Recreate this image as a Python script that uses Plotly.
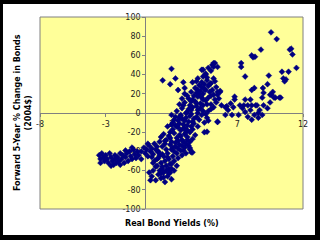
import plotly.graph_objects as go

# Real bond yields (%) and forward 5-year % change in bonds (2004$)
yields = [
    # left cluster
    -3.5, -3.4, -3.3, -3.2, -3.1, -3.0, -2.9, -2.8, -2.7, -2.6, -2.5, -2.4, -2.3, -2.2, -2.1, -2.0,
    -1.9, -1.8, -1.7, -1.6, -1.5, -1.4, -1.3, -1.2, -1.1, -1.0, -0.9, -0.8, -0.7, -0.6, -0.5, -1.5,
    -1.0, -2.6, -3.4, -0.3, -1.9, -2.3,
    # left prong of main cloud
    -0.3, -0.1, 0.0, 0.1, 0.2, 0.3, 0.4, 0.5, 0.6, 0.7, 0.8, 0.9, 1.0, 1.1, 0.5, 0.2,
    # lower cloud
    0.7, 0.9, 1.0, 1.2, 1.3, 1.4, 1.5, 1.6, 1.7, 1.8, 1.9, 2.0, 2.1, 2.2, 2.3, 2.4,
    2.5, 2.6, 2.7, 2.8, 2.9, 3.0, 3.1, 3.2, 3.3, 3.4, 3.5, 2.4, 2.0, 1.1,
    1.3, 1.6, 1.9, 2.2, 2.5, 2.8, 1.1, 3.1, 3.4,
    # bottom
    0.3, 0.5, 0.6, 0.8, 1.0, 1.2, 1.4, 1.5, 1.7, 1.9, 2.0, 0.4, 1.3, 1.8,
    # middle band
    1.2, 1.4, 1.6, 1.8, 2.0, 2.2, 2.4, 2.6, 2.8, 3.0, 3.2, 3.4, 3.6, 3.8, 1.5, 2.7,
    3.0, 3.5, 2.5, 2.1, 1.7, 2.0, 2.3, 2.6, 2.9, 3.2, 3.6, 4.0, 1.9,
    # upper dense cloud
    2.1, 2.5, 2.9, 3.3, 3.7, 4.1, 4.5, 2.3, 2.7, 3.1, 3.5, 3.9, 4.3, 4.7,
    2.4, 2.8, 3.2, 3.6, 4.0, 4.4, 4.8, 5.2, 2.6, 3.0, 3.4, 3.8, 4.2, 4.6, 5.0, 5.4, 5.8,
    2.8, 3.2, 3.6, 4.0, 4.4, 4.8, 5.2, 5.6, 3.0, 3.5, 4.2, 4.9,
    3.8, 4.1, 4.5, 4.8, 5.1, 5.4, 5.7, 4.3, 4.7, 5.0, 5.3, 3.9,
    4.4, 4.6, 4.3, 5.0, 4.8, 5.1, 5.3, 5.5, 4.0, 5.2, 5.2, 4.4, 4.6,
    3.3, 3.7, 4.2, 4.6, 5.0, 2.9, 3.5, 3.9, 4.4, 4.7, 5.3, 3.3, 4.1, 4.6, 5.0, 5.5,
    4.3, 4.9, 5.2, 4.7, 4.5, 3.7, 3.9, 4.0, 3.0, 2.6, 3.4, 4.8, 2.2, 2.0,
    # extra density in the cloud
    2.7, 3.1, 3.5, 3.9, 4.3, 2.4, 2.8, 3.2, 3.6, 4.0, 4.4, 1.5, 1.9, 2.3, 2.7, 3.1,
    0.9, 1.3, 1.7, 2.1, 2.5, 2.9, 0.8, 1.2, 1.6, 2.0, 1.4, 1.8, 2.2, 1.0, 0.6,
    # isolated points near cloud
    2.0, 1.33, 1.9, 2.3, 2.9, 3.6, 3.0, 2.5, 5.5, 6.1, 6.3, 5.5, 4.7, 3.4, 3.6, 5.7,
    # right scattered group
    9.57, 10.0, 11.1, 11.0, 11.2, 8.8, 8.1, 8.2, 8.35, 7.3, 7.3, 7.6, 9.4, 10.4, 10.9, 11.5,
    10.5, 10.7, 10.6, 9.3, 8.95, 8.1, 8.3, 9.7, 9.5, 9.8, 8.9, 10.2, 6.8, 7.6,
    6.2, 6.5, 6.7, 6.8, 7.2, 7.5, 7.8, 8.1, 8.4, 8.5,
    7.4, 7.6, 8.0, 8.3, 8.7, 8.9, 6.1, 6.6, 7.1, 7.8, 8.6, 8.6, 8.1,
    5.5, 4.5, 9.0, 9.5, 9.6, 9.9, 10.3, 9.3, 9.0, 8.0,
]

changes = [
    # left cluster
    -44, -48, -42, -46, -50, -44, -48, -52, -42, -46, -50, -54, -48, -52, -46, -50,
    -54, -48, -44, -52, -46, -42, -50, -40, -45, -48, -38, -43, -47, -40, -44, -39,
    -36, -55, -52, -48, -42, -44,
    # left prong of main cloud
    -40, -36, -42, -38, -45, -34, -40, -37, -43, -32, -38, -35, -41, -30, -46, -32,
    # lower cloud
    -50, -55, -47, -52, -58, -45, -50, -55, -42, -48, -53, -38, -45, -50, -35, -42,
    -47, -33, -39, -44, -30, -36, -42, -28, -34, -38, -41, -55, -58, -60,
    -35, -38, -33, -40, -37, -34, -44, -32, -30,
    # bottom
    -62, -66, -60, -70, -64, -68, -62, -72, -66, -62, -69, -70, -56, -58,
    # middle band
    -25, -22, -28, -24, -30, -21, -26, -23, -28, -22, -25, -20, -27, -23, -32, -18,
    -16, -14, -15, -17, -14, -12, -13, -11, -16, -13, -17, -14, -20,
    # upper dense cloud
    -10, -8, -12, -9, -11, -7, -10, -4, -2, -5, -1, -4, -2, -5,
    2, 5, 1, 6, 3, 8, 2, 6, 9, 11, 8, 12, 10, 13, 9, 11, 8,
    15, 18, 14, 17, 20, 16, 19, 15, 20, 22, 23, 22,
    26, 29, 25, 28, 24, 27, 23, 32, 34, 31, 33, 33,
    38, 41, 45, 44, 47, 50, 52, 48, 36, 52, 48, 45, 40,
    4, -6, 5, -1, 4, 8, 12, 7, 14, 9, 14, 15, 19, 24, 18, 19,
    27, 30, 36, 37, 30, 18, 21, 0, -8, -5, -3, -8, -7, -2,
    # extra density in the cloud
    -3, 0, 3, 10, 16, -14, -6, -18, -9, 24, 2, -29, -26, -31, -24, -20,
    -48, -43, -46, -36, -29, -39, -56, -63, -60, -53, -67, -63, -60, -40, -52,
    # isolated points near cloud
    46, 34, 30, 36, 32, 32, 26, 24, 22, 6, 3, -9.5, -19.5, -36.5, -41, 22,
    # right scattered group
    84, 77, 67, 66, 61, 66, 60, 58, 58.6, 52, 48, 38, 39, 43, 43, 47,
    36, 35, 33, 30, 26, 24, 26, 22, 19, 16, 16, 16, 17, 14,
    7, 10, 6, 14, 8, 8, 8, 8, 8, 8,
    5, 1, 3, -2, 3, -2, -2, -2, -2, -4, -5, 0, -7,
    -9, -20, 8, 11, 19, 16, 16, 5, 21, 14,
]

x_tick_vals = [-8, -3, 2, 7, 12]
x_tick_text = ["-8", "-3", "2", "7", "12"]
y_tick_vals = [-100, -80, -60, -40, -20, 0, 20, 40, 60, 80, 100]
y_tick_text = ["-100", "-80", "-60", "-40", "-20", "0", "20", "40", "60", "80", "100"]

x_title = "Real Bond Yields (%)"
y_title = "Forward 5-Year % Change in Bonds<br>(2004$)"

fig = go.Figure()
fig.add_trace(go.Scatter(
    x=yields, y=changes, mode="markers",
    marker=dict(symbol="diamond", size=4.5, color="#000080", line=dict(width=0.5, color="#000080")),
    showlegend=False, hoverinfo="skip",
))

tick_font = dict(family="DejaVu Sans", size=8, color="#222222")

fig.update_layout(
    width=320, height=240,
    margin=dict(l=40, r=17, t=17, b=31, pad=0),
    paper_bgcolor="white",
    plot_bgcolor="#FFFF99",
    showlegend=False,
    xaxis=dict(
        range=[-8, 12], tickvals=x_tick_vals, ticktext=x_tick_text,
        showgrid=False, zeroline=False, showline=True, linecolor="#808080", linewidth=1,
        anchor="free", position=0.5, ticks="outside", ticklen=3, tickcolor="#808080",
        tickfont=tick_font, layer="below traces",
    ),
    yaxis=dict(
        range=[-100, 100], tickvals=y_tick_vals, ticktext=y_tick_text,
        showgrid=False, zeroline=False, showline=True, linecolor="#808080", linewidth=1,
        anchor="free", position=0.4, ticks="outside", ticklen=3, tickcolor="#808080",
        tickfont=tick_font, layer="below traces",
    ),
    shapes=[
        dict(type="rect", xref="paper", yref="paper", x0=0, x1=1, y0=0, y1=1,
             line=dict(color="#808080", width=1), fillcolor="rgba(0,0,0,0)", layer="above"),
        # black frame around the picture
        dict(type="rect", xref="paper", yref="paper", x0=-0.3, x1=-0.1407, y0=-0.3, y1=1.3,
             line=dict(width=0), fillcolor="black", layer="above"),
        dict(type="rect", xref="paper", yref="paper", x0=1.0456, x1=1.3, y0=-0.3, y1=1.3,
             line=dict(width=0), fillcolor="black", layer="above"),
        dict(type="rect", xref="paper", yref="paper", x0=-0.3, x1=1.3, y0=1.0677, y1=1.3,
             line=dict(width=0), fillcolor="black", layer="above"),
        dict(type="rect", xref="paper", yref="paper", x0=-0.3, x1=1.3, y0=-0.3, y1=-0.1354,
             line=dict(width=0), fillcolor="black", layer="above"),
    ],
    annotations=[
        dict(text="<b>" + x_title + "</b>", xref="paper", yref="paper", x=0.5, y=-0.073,
             xanchor="center", yanchor="middle", showarrow=False,
             font=dict(family="DejaVu Sans", size=8, color="black")),
        dict(text="<b>" + y_title + "</b>", xref="paper", yref="paper", x=-0.068, y=0.5,
             xanchor="center", yanchor="middle", showarrow=False, textangle=-90,
             font=dict(family="DejaVu Sans", size=8, color="black")),
    ],
)

fig.write_html("out.html")
